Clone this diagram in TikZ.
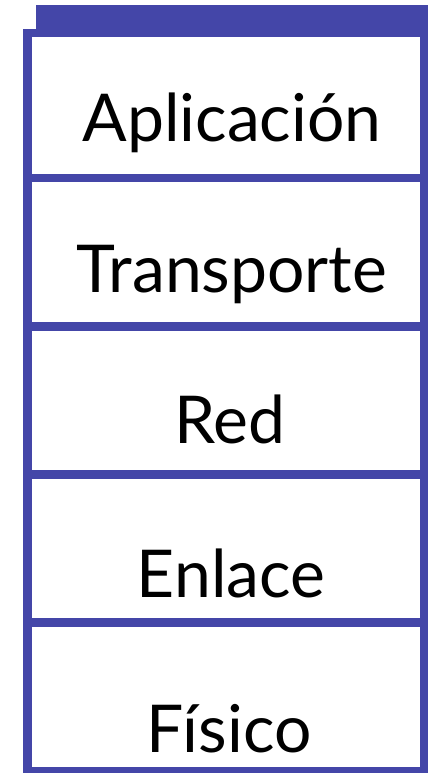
\documentclass[tikz,border=0pt]{standalone}
\usepackage{fontspec}
\setmainfont{Lato}
\usetikzlibrary{positioning}
\definecolor{capazul}{RGB}{68,70,168}
\tikzset{
  capa/.style={draw=capazul, line width=4.3pt, fill=white, outer sep=0pt,
    minimum width=198.25pt, minimum height=74.1pt},
  nombre/.style={anchor=base, inner sep=0pt, font=\fontsize{33}{36}\selectfont}
}
\begin{document}
\begin{tikzpicture}[x=0.5pt, y=-0.5pt]
      \useasboundingbox (0,0) rectangle (428,773);
      % tapa superior de la pila
      \fill[capazul] (36,5) rectangle (428,37);
      \node[capa, minimum height=72.5pt] (apl) at (225.75,105.5) {};
      \node[capa, below=0pt of apl] (tra) {};
      \node[capa, below=0pt of tra] (red) {};
      \node[capa, below=0pt of red] (enl) {};
      \node[capa, below=0pt of enl] (fis) {};
      % nombres de las capas
      \node[nombre] (napl) at (232,141) {Aplicación};
      \node[nombre] (ntra) at (232,292) {Transporte};
      \node[nombre] (nred) at (230,443) {Red};
      \node[nombre] (nenl) at (231,597) {Enlace};
      \node[nombre] (nfis) at (229,752) {Físico};
    \end{tikzpicture}
\end{document}
